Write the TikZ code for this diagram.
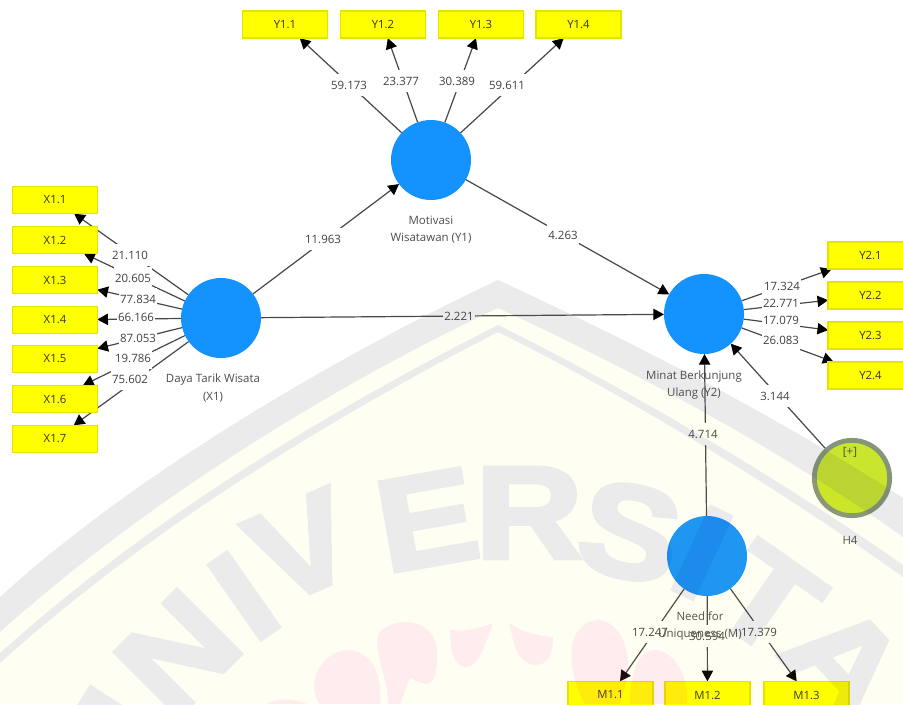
\documentclass[tikz,border=0pt]{standalone}
\usepackage{fontspec}
\usepackage{graphicx}
\setmainfont{Open Sans}
\newfontfamily\wmfont[BoldFeatures={FakeBold=3}]{Liberation Sans}
\usetikzlibrary{arrows.meta}
\definecolor{boxfill}{HTML}{FFFF00}
\definecolor{boxline}{HTML}{E4E400}
\definecolor{latent}{HTML}{1493FF}
\definecolor{modfill}{HTML}{C9E62C}
\definecolor{modline}{HTML}{84957A}
\definecolor{wmink}{RGB}{0,0,160}
\definecolor{wmrose}{RGB}{255,0,192}
\newcommand{\wmwide}[1]{\scalebox{1.13}[1]{#1}}
\pgfdeclarelayer{edges}
\pgfdeclarelayer{wm}
\pgfsetlayers{edges,main,wm}
\tikzset{
  indic/.style={draw=boxline,line width=1.1pt,fill=boxfill,minimum width=63.5pt,minimum height=20.5pt,inner sep=0pt,outer sep=0pt,font=\fontsize{8.5}{10}\selectfont,text=black!80},
  latvar/.style={circle,fill=latent,minimum size=60pt,inner sep=0pt,outer sep=0pt},
  modcirc/.style={circle,draw=modline,line width=3.6pt,fill=modfill,minimum size=56.5pt,inner sep=0pt,outer sep=1.8pt},
  linkline/.style={draw=black!72,line width=0.9pt,-{Triangle[length=8pt,width=8.5pt,color=black]}},
  valtext/.style={fill=white,inner xsep=1pt,inner ysep=0pt,minimum height=17pt,outer sep=0pt,font=\fontsize{8.6}{10}\selectfont,text=black!75},
  captext/.style={align=center,inner sep=0pt,font=\fontsize{8.6}{13}\selectfont,text=black!70},
  wmletter/.style={font=\wmfont\bfseries\fontsize{99}{99}\selectfont,text=wmink,inner sep=0pt},
  wmband/.style={fill=wmink},
  wmpaper/.style={fill=yellow,fill opacity=0.05},
  wmred/.style={fill=wmrose,fill opacity=0.07}
}
\begin{document}
\begin{tikzpicture}[x=0.75pt,y=-0.75pt]
\useasboundingbox (0,0) rectangle (903,704);
\clip (0,0) rectangle (903,704);
% latent variables
\node[latvar] (Y1) at (431,160) {};
\node[latvar] (X1) at (221,318) {};
\node[latvar] (Y2) at (704,314) {};
\node[latvar] (M) at (707,556) {};
\node[modcirc] (H4) at (852,478) {};
\node[captext] (h4plus) at (850,452) {[+]};
% indicators
\node[indic] (x1) at (55,200) {X1.1};
\node[indic] (x2) at (55,240) {X1.2};
\node[indic] (x3) at (55,280) {X1.3};
\node[indic] (x4) at (55,320) {X1.4};
\node[indic] (x5) at (55,359) {X1.5};
\node[indic] (x6) at (55,399) {X1.6};
\node[indic] (x7) at (55,439) {X1.7};
\node[indic] (y11) at (285,24.5) {Y1.1};
\node[indic] (y12) at (383,24.5) {Y1.2};
\node[indic] (y13) at (481,24.5) {Y1.3};
\node[indic] (y14) at (578.500,24.5) {Y1.4};
\node[indic] (y21) at (870.500,255.500) {Y2.1};
\node[indic] (y22) at (870.500,295.500) {Y2.2};
\node[indic] (y23) at (870.500,335.500) {Y2.3};
\node[indic] (y24) at (870.500,375.500) {Y2.4};
\node[indic] (m1) at (610.500,695) {M1.1};
\node[indic] (m2) at (707.500,695) {M1.2};
\node[indic] (m3) at (806.500,695) {M1.3};
% connectors
\begin{pgfonlayer}{edges}
\foreach \a/\b in {X1/x1,X1/x2,X1/x3,X1/x4,X1/x5,X1/x6,X1/x7,
  Y1/y11,Y1/y12,Y1/y13,Y1/y14,Y2/y21,Y2/y22,Y2/y23,Y2/y24,
  M/m1,M/m2,M/m3,X1/Y1,X1/Y2,Y1/Y2,M/Y2,H4/Y2}
  \draw[linkline] (\a) -- (\b);
\end{pgfonlayer}
% path labels
\node[valtext] (l1) at (130,255) {21.110};
\node[valtext] (l2) at (133,278) {20.605};
\node[valtext] (l3) at (138,299) {77.834};
\node[valtext] (l4) at (136,317) {66.166};
\node[valtext] (l5) at (138,338) {87.053};
\node[valtext] (l6) at (133,358) {19.786};
\node[valtext] (l7) at (130,379) {75.602};
\node[valtext] (l8) at (349,85) {59.173};
\node[valtext] (l9) at (401,81) {23.377};
\node[valtext] (l10) at (457,81) {30.389};
\node[valtext] (l11) at (507,85) {59.611};
\node[valtext] (l12) at (323,239) {11.963};
\node[valtext] (l13) at (563,235) {4.263};
\node[valtext] (l14) at (459,316) {2.221};
\node[valtext] (l15) at (782,286) {17.324};
\node[valtext] (l16) at (781,303) {22.771};
\node[valtext] (l17) at (781,320) {17.079};
\node[valtext] (l18) at (781,340) {26.083};
\node[valtext] (l19) at (775,396) {3.144};
\node[valtext] (l20) at (703,434) {4.714};
\node[valtext] (l21) at (650,632) {17.247};
\node[valtext] (l22) at (707,636) {30.594};
\node[valtext] (l23) at (759,632) {17.379};
% captions
\node[captext] (c1) at (431,230) {Motivasi\\Wisatawan (Y1)};
\node[captext] (c2) at (213,388) {Daya Tarik Wisata\\(X1)};
\node[captext] (c3) at (694,385) {Minat Berkunjung\\Ulang (Y2)};
\node[captext] (c4) at (700,626) {Need for\\Uniqueness (M)};
\node[captext] (c5) at (850,540) {H4};
% watermark, laid over everything
\begin{pgfonlayer}{wm}
\fill[wmpaper] (0,597) .. controls (150,460) and (370,340) .. (498,280)
  .. controls (600,327) and (760,405) .. (903,498) -- (903,704) -- (0,704) -- cycle;
\begin{scope}[transparency group,opacity=0.075]
\fill[wmband] (0,597) .. controls (150,460) and (370,340) .. (498,280)
  .. controls (600,327) and (760,405) .. (903,498) -- (903,537)
  .. controls (760,435) and (600,355) .. (498,308)
  .. controls (370,368) and (170,480) .. (0,632) -- cycle;
\fill[wmband] (0,653) .. controls (170,500) and (370,390) .. (498,325)
  .. controls (600,375) and (760,465) .. (903,565) -- (903,577)
  .. controls (760,475) and (600,382) .. (498,332)
  .. controls (370,398) and (170,510) .. (0,663) -- cycle;
\node[wmletter,rotate=57] (wu) at (105,750) {\wmwide{U}};
\node[wmletter,rotate=45] (wn) at (178,653) {\wmwide{N}};
\node[wmletter,rotate=35] (wi) at (244,596) {\wmwide{I}};
\node[wmletter,rotate=23.5] (wv) at (302,547) {\wmwide{V}};
\node[wmletter,rotate=10] (we) at (427,520) {\wmwide{E}};
\node[wmletter,rotate=0] (wr) at (529,513) {\wmwide{R}};
\node[wmletter,rotate=-12] (ws) at (630,532) {\wmwide{S}};
\node[wmletter,rotate=-25] (wj) at (702,553) {\wmwide{I}};
\node[wmletter,rotate=-35] (wt) at (768,600) {\wmwide{T}};
\node[wmletter,rotate=-47] (wa) at (845,662) {\wmwide{A}};
\end{scope}
\fill[wmred] (347,650) .. controls (375,650) and (382,680) .. (380,704) -- (320,704) .. controls (305,685) and (320,652) .. (347,650) -- cycle;
\fill[wmred] (405,622) .. controls (430,622) and (440,640) .. (437,665) .. controls (434,690) and (425,685) .. (410,678) -- (400,704) -- (388,704) .. controls (388,680) and (378,665) .. (377,640) .. controls (377,630) and (390,622) .. (405,622) -- cycle;
\fill[wmred] (450,630) .. controls (465,632) and (480,628) .. (493,623) .. controls (485,645) and (478,667) .. (466,667) .. controls (452,667) and (450,645) .. (450,630) -- cycle;
\fill[wmred] (510,623) .. controls (520,632) and (540,636) .. (553,637) .. controls (553,655) and (548,665) .. (535,665) .. controls (520,665) and (512,645) .. (510,623) -- cycle;
\fill[wmred] (597,620) .. controls (620,620) and (632,650) .. (627,680) -- (620,704) -- (585,704) .. controls (570,680) and (560,625) .. (597,620) -- cycle;
\fill[wmred] (655,650) .. controls (675,650) and (690,680) .. (687,704) -- (630,704) .. controls (630,680) and (635,650) .. (655,650) -- cycle;
\fill[wmred] (267,704) .. controls (275,698) and (295,698) .. (307,704) -- cycle;
\end{pgfonlayer}
\end{tikzpicture}
\end{document}
